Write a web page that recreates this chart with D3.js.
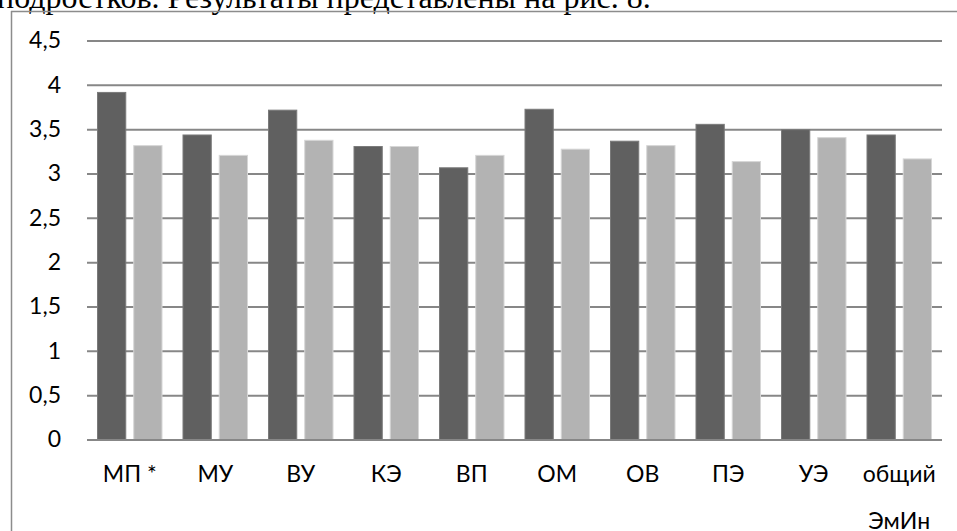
<!DOCTYPE html>
<html>
<head>
  <meta charset="utf-8">
  <title>рис. 8</title>
  <script src="https://cdnjs.cloudflare.com/ajax/libs/d3/7.8.5/d3.min.js"></script>
  <style>
    body { margin: 0; background: #fff; }
  </style>
</head>
<body>
  <script>
    // data
    let categories = ["МП *", "МУ", "ВУ", "КЭ", "ВП", "ОМ", "ОВ", "ПЭ", "УЭ", "общий\nЭмИн"];
    let seriesDark = [3.92, 3.44, 3.72, 3.31, 3.07, 3.73, 3.37, 3.56, 3.50, 3.44];
    let seriesLight = [3.32, 3.21, 3.38, 3.31, 3.21, 3.28, 3.32, 3.14, 3.41, 3.17];
    let yTicks = [0, 0.5, 1, 1.5, 2, 2.5, 3, 3.5, 4, 4.5];

    let width = 957;
    let height = 531;
    let labelFont = "Lato, Carlito, Calibri, sans-serif";

    let svg = d3.select("body")
      .append("svg")
      .attr("width", width)
      .attr("height", height);

    // cut-off line of document text above the chart
    svg.append("text")
      .attr("x", -3)
      .attr("y", 8)
      .attr("font-family", "Liberation Serif, Times New Roman, serif")
      .attr("font-size", 32)
      .attr("fill", "#000")
      .text("подростков. Результаты представлены на рис. 8.");

    // chart frame (top and left edges visible)
    svg.append("line")
      .attr("x1", 11).attr("x2", width)
      .attr("y1", 11.5).attr("y2", 11.5)
      .attr("stroke", "#8c8c8c").attr("stroke-width", 1.5);
    svg.append("line")
      .attr("x1", 11.5).attr("x2", 11.5)
      .attr("y1", 11).attr("y2", height)
      .attr("stroke", "#8c8c8c").attr("stroke-width", 1.5);

    let x = d3.scaleBand()
      .domain(categories)
      .range([87, 942])
      .paddingInner(0)
      .paddingOuter(0);

    let y = d3.scaleLinear()
      .domain([0, 4.5])
      .range([440, 41]);

    let inner = d3.scaleBand()
      .domain(["dark", "light"])
      .range([10.5, x.bandwidth() - 10.5])
      .paddingInner(0.22);

    // gridlines
    svg.append("g")
      .selectAll("line")
      .data(yTicks)
      .enter()
      .append("line")
      .attr("x1", 87)
      .attr("x2", 942)
      .attr("y1", d => y(d))
      .attr("y2", d => y(d))
      .attr("stroke", "#878787")
      .attr("stroke-width", 2);

    // y axis labels
    let yAxis = svg.append("g")
      .attr("transform", "translate(61,0)")
      .call(d3.axisLeft(y).tickValues(yTicks).tickSize(0).tickPadding(0)
        .tickFormat(d => String(d).replace(".", ",")));
    yAxis.select(".domain").remove();
    yAxis.selectAll("text")
      .attr("font-family", labelFont)
      .attr("font-size", 23)
      .attr("fill", "#000")
      .attr("dy", "0.3em");

    let bars = svg.append("g");
    let rows = categories.map((c, i) => ({ c: c, dark: seriesDark[i], light: seriesLight[i] }));

    bars.selectAll(".dark")
      .data(rows)
      .enter()
      .append("rect")
      .attr("x", d => x(d.c) + inner("dark"))
      .attr("y", d => y(d.dark))
      .attr("width", inner.bandwidth())
      .attr("height", d => y(0) - y(d.dark))
      .attr("fill", "#606060")
      .attr("stroke", "#7a7a7a")
      .attr("stroke-width", 1);

    bars.selectAll(".light")
      .data(rows)
      .enter()
      .append("rect")
      .attr("x", d => x(d.c) + inner("light"))
      .attr("y", d => y(d.light))
      .attr("width", inner.bandwidth())
      .attr("height", d => y(0) - y(d.light))
      .attr("fill", "#b3b3b3")
      .attr("stroke", "#d6d6d6")
      .attr("stroke-width", 1);

    // baseline
    svg.append("line")
      .attr("x1", 87).attr("x2", 942)
      .attr("y1", y(0)).attr("y2", y(0))
      .attr("stroke", "#878787").attr("stroke-width", 2);

    // category labels, wrapped on \n
    let labels = svg.append("g")
      .selectAll("text")
      .data(categories)
      .enter()
      .append("text")
      .attr("x", d => x(d) + x.bandwidth() / 2)
      .attr("y", 482)
      .attr("text-anchor", "middle")
      .attr("font-family", labelFont)
      .attr("font-size", 23)
      .attr("fill", "#000");

    labels.selectAll("tspan")
      .data(d => d.split("\n"))
      .enter()
      .append("tspan")
      .attr("x", function() { return this.parentNode.getAttribute("x"); })
      .attr("dy", (d, i) => i === 0 ? 0 : 47)
      .text(d => d);
  </script>
</body>
</html>
